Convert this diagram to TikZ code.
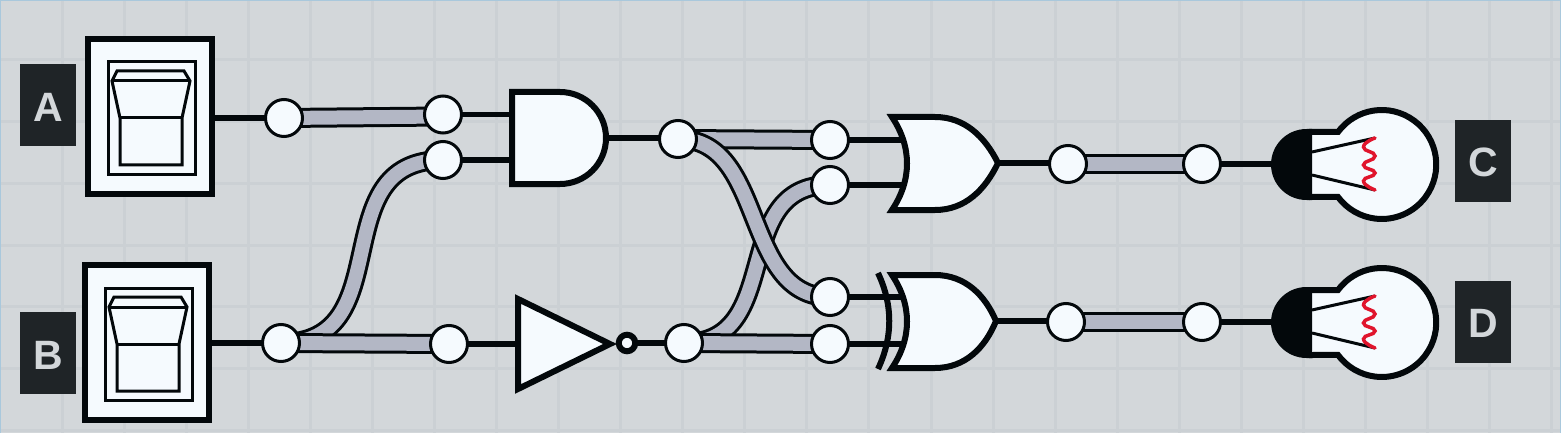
\documentclass[tikz,border=0pt]{standalone}
\usepackage{fontspec}
\setmainfont{Liberation Sans}
\usetikzlibrary{backgrounds}
\definecolor{bgc}{HTML}{D3D7DA}
\definecolor{gridc}{HTML}{CBD0D4}
\definecolor{framec}{HTML}{A9C8DC}
\definecolor{ink}{HTML}{03080B}
\definecolor{paper}{HTML}{F5FAFE}
\definecolor{tubec}{HTML}{B3B7C5}
\definecolor{labelc}{HTML}{1F2427}
\definecolor{redc}{HTML}{E0142C}
\pgfdeclarelayer{grid}
\pgfdeclarelayer{wires}
\pgfsetlayers{grid,wires,main}
\tikzset{
  gridline/.style={gridc,line width=3pt},
  wire/.style={ink,line width=5.5pt},
  tube/.style={draw=tubec,line width=14pt,preaction={draw=ink,line width=20pt}},
  port/.style={circle,draw=ink,fill=paper,line width=3pt,minimum size=37pt,inner sep=0pt},
  tag/.style={fill=labelc,text=bgc,minimum width=56pt,minimum height=82pt,inner sep=0pt,font=\fontsize{41}{41}\selectfont\bfseries},
  gate/.style={draw=ink,fill=paper,line width=6pt,line join=miter},
  swbox/.style={draw=ink,fill=paper,line width=6pt,minimum width=124pt,minimum height=155pt,inner sep=0pt},
  thin part/.style={draw=ink,line width=3pt,line join=miter},
  bubble/.style={circle,draw=ink,fill=paper,line width=6pt,minimum size=16.5pt,inner sep=0pt},
}
\newcommand{\rockerswitch}[3]{%
  \node[swbox] (#1) at (#2+65,#3+80.5) {};
  \begin{scope}[shift={(#2,#3)}]
    \draw[thin part] (23,26) rectangle (110,138);
    \draw[thin part] (32,35) -- (99,35) -- (105,45) -- (97,82) -- (97,129) -- (35,129) -- (35,82) -- (27,45) -- cycle;
    \draw[thin part] (27,45) -- (105,45);
    \draw[thin part] (35,82) -- (97,82);
  \end{scope}}
\newcommand{\lamp}[2]{%
  \begin{scope}[shift={(0,#2)}]
    \draw[gate] (1309,132) -- (1338,132) arc[start angle=216.6,end angle=503.4,radius=54.5] -- (1309,197);
    \fill[ink] (1312,129) -- (1306.5,129) arc[start angle=270,end angle=90,radius=35.5] -- (1312,200) -- cycle;
    \coordinate (#1) at (1275,164.5);
    \draw[ink,line width=3pt] (1312,152) -- (1375,138);
    \draw[ink,line width=3pt] (1312,175) -- (1375,190);
    \draw[redc,line width=3.5pt,line cap=round] plot[smooth,tension=1] coordinates {(1375,138) (1363.5,147) (1375,156) (1363.5,165) (1375,173) (1363.5,181) (1375,190)};
  \end{scope}}
\newcommand{\orbody}[4]{% name, dx, dy, tip x
  \draw[gate] (#2+892,#3+117) -- (#2+935,#3+117) .. controls (#2+965,#3+117) and (#2+985,#3+137) .. (#4,#3+163) .. controls (#2+985,#3+190) and (#2+965,#3+210) .. (#2+935,#3+210) -- (#2+892,#3+210) .. controls (#2+912,#3+180) and (#2+912,#3+147) .. cycle;
  \coordinate (#1) at (#4,#3+163);}
\begin{document}
\begin{tikzpicture}[x=1pt,y=-1pt]
\useasboundingbox (0,0) rectangle (1561,433);
\begin{pgfonlayer}{grid}
  \fill[bgc] (0,0) rectangle (1561,433);
  \foreach \k in {1,...,25} {\draw[gridline] ({62.07*\k},0) -- ({62.07*\k},433);}
  \foreach \k in {0,...,6} {\draw[gridline] (0,{60+61.7*\k}) -- (1561,{60+61.7*\k});}
  \draw[framec,line width=1.5pt] (0,433) -- (0,0) -- (1561,0) -- (1561,433);
\end{pgfonlayer}

% tags
\node[tag] (tagA) at (48,105) {\raisebox{-2pt}[\height][0pt]{A}};
\node[tag] (tagB) at (48,353) {\raisebox{-2pt}[\height][0pt]{B}};
\node[tag] (tagC) at (1483,161) {\raisebox{-1pt}[\height][0pt]{C}};
\node[tag] (tagD) at (1483,322) {\raisebox{-1pt}[\height][0pt]{D}};

% switches
\rockerswitch{swA}{85}{36}
\rockerswitch{swB}{82}{262}

% ports
\node[port] (n1) at (284,118) {};
\node[port] (n2) at (443,114.5) {};
\node[port] (n3) at (443,160) {};
\node[port] (n4) at (281,343) {};
\node[port] (n5) at (449,344) {};
\node[port] (n6) at (678,139) {};
\node[port] (n7) at (830,140) {};
\node[port] (n8) at (830,185) {};
\node[port] (n9) at (684,343) {};
\node[port] (n10) at (830,297) {};
\node[port] (n11) at (830,344) {};
\node[port] (n12) at (1068,164) {};
\node[port] (n13) at (1202,164) {};
\node[port] (n14) at (1066,322) {};
\node[port] (n15) at (1202,322) {};
\coordinate (n2t) at (443,116.5);

% AND gate
\draw[gate] (512,92) -- (560,92) arc[start angle=270,end angle=450,radius=46] -- (512,184) -- cycle;
\coordinate (andA) at (512,114.5);
\coordinate (andB) at (512,160);
\coordinate (andOut) at (606,138);

% NOT gate
\draw[gate] (518,299) -- (610,344) -- (518,389) -- cycle;
\coordinate (notIn) at (518,344);
\node[bubble] (notB) at (627,343) {};

% OR gate
\orbody{orOut}{0}{0}{998}
\coordinate (orA) at (905,140);
\coordinate (orB) at (905,185);

% XOR gate
\orbody{xorOut}{0}{158}{996}
\draw[ink,line width=6pt] (878,273) .. controls (893,305) and (893,337) .. (878,369);
\coordinate (xorA) at (905,297);
\coordinate (xorB) at (905,344);

% lamps
\lamp{lampC}{0}
\lamp{lampD}{158}

\begin{pgfonlayer}{wires}
  \draw[wire] (swA.east |- n1) -- (n1.center);
  \draw[wire] (swB.east |- n4) -- (n4.center);
  \draw[tube] (n1.center) -- (n2t);
  \draw[tube] (n4.center) .. controls (402,343) and (321,160) .. (n3.center);
  \draw[tube] (n4.center) -- (n5.center);
  \draw[wire] (n2.center) -- (andA);
  \draw[wire,line width=6.5pt] (n3.center) -- (andB);
  \draw[wire] (n5.center) -- (notIn);
  \draw[wire] (andOut) -- (andOut -| n6);
  \draw[wire] (notB.center) -- (notB -| n9);
  \draw[tube] (n9.center) .. controls (786,343) and (728,185) .. (n8.center);
  \draw[tube] (n9.center) -- (n11.center);
  \draw[tube] (n6.center) -- (n7.center);
  \draw[tube] (n6.center) .. controls (767,139) and (741,297) .. (n10.center);
  \draw[wire] (n7.center) -- (orA);
  \draw[wire] (n8.center) -- (orB);
  \draw[wire] (n10.center) -- (xorA);
  \draw[wire] (n11.center) -- (xorB);
  \draw[wire] (orOut) -- (orOut -| n12);
  \draw[wire] (xorOut) -- (xorOut -| n14);
  \draw[tube] (n12.center) -- (n13.center);
  \draw[tube] (n14.center) -- (n15.center);
  \draw[wire] (n13.center) -- (lampC |- n13);
  \draw[wire] (n15.center) -- (lampD |- n15);
\end{pgfonlayer}
\end{tikzpicture}
\end{document}
